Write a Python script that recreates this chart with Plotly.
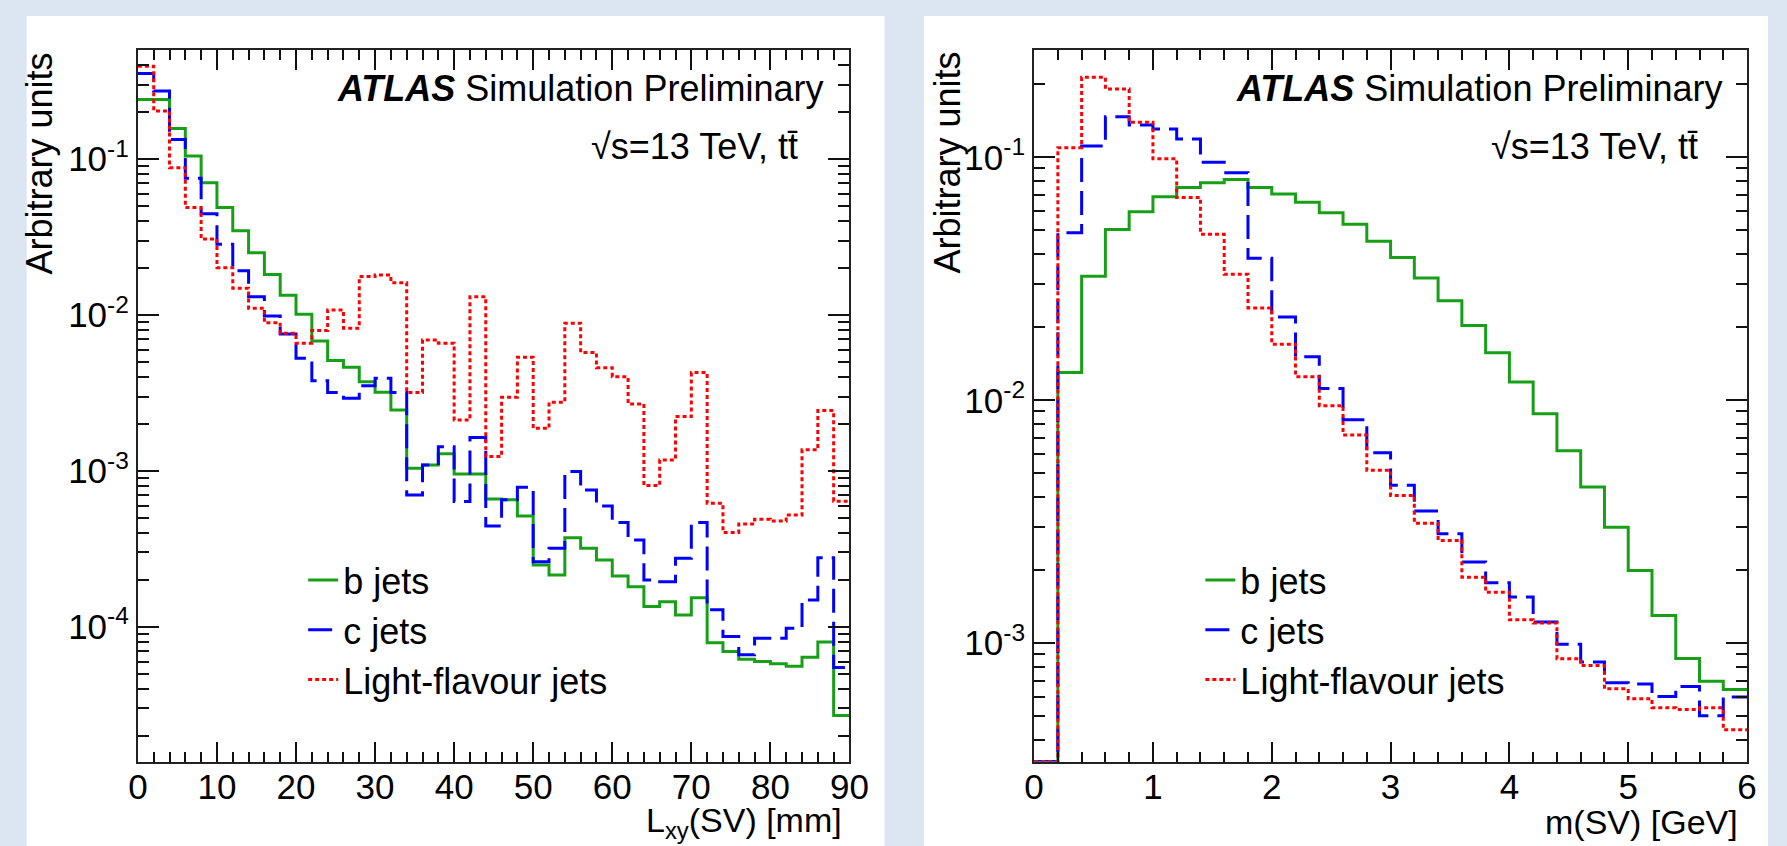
import numpy as np
import plotly.graph_objects as go

# ---------------- data ----------------
lxy_bin_width = 2.0          # mm
lxy_nbins = 45               # 0 .. 90 mm
msv_bin_width = 0.2          # GeV
msv_nbins = 30               # 0 .. 6 GeV

lxy_b = [0.241, 0.241, 0.157, 0.1045, 0.0705, 0.0488, 0.0347, 0.0251, 0.0182, 0.0134,
         0.0101, 0.0068, 0.0051, 0.00462, 0.00373, 0.00319, 0.00246, 0.00104, 0.00109, 0.00129,
         0.000957, 0.000957, 0.000662, 0.000654, 0.000515, 0.000249, 0.000215, 0.000373, 0.000319, 0.000269,
         0.000212, 0.000181, 0.000135, 0.000145, 0.000119, 0.000154, 7.9e-5, 6.95e-5, 6.2e-5, 6.0e-5,
         5.8e-5, 5.6e-5, 6.4e-5, 8.0e-5, 2.7e-5]
lxy_c = [0.354, 0.273, 0.1336, 0.0752, 0.0446, 0.0284, 0.0192, 0.0131, 0.00986, 0.00756,
         0.00527, 0.00379, 0.00318, 0.00292, 0.00352, 0.00393, 0.00318, 0.000702, 0.00109, 0.00143,
         0.000636, 0.001636, 0.000444, 0.000654, 0.000787, 0.000262, 0.000319, 0.00099, 0.000755, 0.000597,
         0.000467, 0.000361, 0.0002, 0.000195, 0.000276, 0.000467, 0.000129, 8.67e-5, 6.62e-5, 8.46e-5,
         8.46e-5, 9.8e-5, 0.000149, 0.000278, 5.5e-5]
lxy_l = [0.394, 0.203, 0.088, 0.0488, 0.0307, 0.0201, 0.01483, 0.01104, 0.00893, 0.00764,
         0.00659, 0.00794, 0.01077, 0.00822, 0.01762, 0.01804, 0.0161, 0.00318, 0.00692, 0.00659,
         0.00212, 0.0131, 0.001236, 0.002965, 0.00536, 0.001875, 0.002755, 0.00885, 0.00574, 0.00459,
         0.00402, 0.00269, 0.000806, 0.001177, 0.00223, 0.00427, 0.00062, 0.000403, 0.000457, 0.00049,
         0.000478, 0.000522, 0.001365, 0.00244, 0.00064]

msv_b = [0, 0.0130, 0.0324, 0.0505, 0.0597, 0.0689, 0.0752, 0.0786, 0.0811, 0.0752,
         0.0706, 0.0653, 0.0592, 0.0530, 0.0452, 0.0387, 0.0319, 0.0257, 0.0203, 0.0157,
         0.0119, 0.0088, 0.0062, 0.0044, 0.0030, 0.00199, 0.0013, 0.000865, 0.000697, 0.000644]
msv_c = [0, 0.0489, 0.1113, 0.147, 0.1358, 0.1308, 0.119, 0.0954, 0.0864, 0.0384,
         0.022, 0.0151, 0.01117, 0.00832, 0.00608, 0.00447, 0.0035, 0.002825, 0.00216, 0.001775,
         0.001548, 0.001222, 0.000989, 0.000836, 0.000687, 0.00068, 0.000603, 0.000663, 0.000503, 0.0006]
msv_l = [0, 0.1096, 0.2137, 0.191, 0.1396, 0.0987, 0.0684, 0.0483, 0.033, 0.024,
         0.0170, 0.0125, 0.0095, 0.0072, 0.00515, 0.00406, 0.00312, 0.00265, 0.00187, 0.00162,
         0.001248, 0.00121, 0.000862, 0.000809, 0.000649, 0.00059, 0.000542, 0.000534, 0.000542, 0.00044]

series_names = ["b jets", "c jets", "Light-flavour jets"]
ytick_vals_left = [1e-4, 1e-3, 1e-2, 1e-1]
ytick_text_left = ["10<sup>-4</sup>", "10<sup>-3</sup>", "10<sup>-2</sup>", "10<sup>-1</sup>"]
ytick_vals_right = [1e-3, 1e-2, 1e-1]
ytick_text_right = ["10<sup>-3</sup>", "10<sup>-2</sup>", "10<sup>-1</sup>"]

# ---------------- styling ----------------
W, H = 1787, 846
FONT = "Liberation Sans, Arial, Helvetica, sans-serif"
GREEN, BLUE, RED = "#17a017", "#0000ff", "#ff0000"
styles = [dict(color=GREEN, width=3, dash="solid"),
          dict(color=BLUE, width=3, dash="24px,9px"),
          dict(color=RED, width=3, dash="4px,3px")]

LEFT_YRANGE = [-4.863, -0.301]
RIGHT_YRANGE = [-3.487, -0.558]
TICK_SIZE = 35
TEXT_SIZE = 36
XTITLE_SIZE = 34


def px_x(p):
    return p / W


def px_y(p):
    return 1 - p / H


def steps(width, vals, ymin_log):
    edges = np.arange(len(vals) + 1) * width
    floor = 10 ** ymin_log
    y = [max(v, floor) for v in vals]
    return edges, y + [y[-1]]


fig = go.Figure()

for i, (name, vals) in enumerate(zip(series_names, [lxy_b, lxy_c, lxy_l])):
    xs, ys = steps(lxy_bin_width, vals, LEFT_YRANGE[0])
    fig.add_trace(go.Scatter(x=xs, y=ys, mode="lines", line=dict(shape="hv", **styles[i]),
                             name=name, xaxis="x", yaxis="y", legend="legend"))

for i, (name, vals) in enumerate(zip(series_names, [msv_b, msv_c, msv_l])):
    xs, ys = steps(msv_bin_width, vals, RIGHT_YRANGE[0])
    fig.add_trace(go.Scatter(x=xs, y=ys, mode="lines", line=dict(shape="hv", **styles[i]),
                             name=name, xaxis="x2", yaxis="y2", legend="legend2"))

ydom = [px_y(761.5), px_y(50)]
common_x = dict(ticks="inside", ticklen=20, tickwidth=1.5, tickcolor="#111",
                showline=True, linecolor="#222", linewidth=2, mirror="allticks",
                showgrid=False, zeroline=False,
                tickfont=dict(family=FONT, size=TICK_SIZE, color="black"), ticklabelstandoff=-7)
common_y = dict(type="log", ticks="inside", ticklen=21, tickwidth=1.5, tickcolor="#111",
                showline=True, linecolor="#222", linewidth=2, mirror="allticks",
                showgrid=False, zeroline=False, tickmode="array",
                minor=dict(ticks="inside", ticklen=11, tickwidth=1.5, tickcolor="#111",
                           dtick="D1", showgrid=False),
                tickfont=dict(family=FONT, size=TICK_SIZE, color="black"), ticklabelstandoff=0)

legend_common = dict(xanchor="left", yanchor="top", bgcolor="rgba(0,0,0,0)",
                     font=dict(family=FONT, size=TEXT_SIZE, color="black"), tracegroupgap=0)

fig.update_layout(
    width=W, height=H, margin=dict(l=0, r=0, t=0, b=0),
    paper_bgcolor="#dce6f2", plot_bgcolor="white",
    xaxis=dict(domain=[px_x(130), px_x(853.3)], range=[0, 90], anchor="y", dtick=10, tick0=0,
               minor=dict(ticks="inside", ticklen=10, tickwidth=1.5, tickcolor="#111", dtick=2,
                          showgrid=False), **common_x),
    yaxis=dict(domain=ydom, range=LEFT_YRANGE, anchor="x",
               tickvals=ytick_vals_left, ticktext=ytick_text_left, **common_y),
    xaxis2=dict(domain=[px_x(1041), px_x(1765.7)], range=[0, 6], anchor="y2", dtick=1, tick0=0,
                minor=dict(ticks="inside", ticklen=10, tickwidth=1.5, tickcolor="#111", dtick=0.2,
                           showgrid=False), **common_x),
    yaxis2=dict(domain=ydom, range=RIGHT_YRANGE, anchor="x2",
                tickvals=ytick_vals_right, ticktext=ytick_text_right, **common_y),
    legend=dict(x=px_x(298), y=px_y(550), **legend_common),
    legend2=dict(x=px_x(1210), y=px_y(550), **legend_common),
    showlegend=True,
)

# white pads
fig.add_shape(type="rect", xref="paper", yref="paper", x0=px_x(17), x1=px_x(889),
              y0=0, y1=px_y(16), fillcolor="white", line=dict(width=0), layer="below")
fig.add_shape(type="rect", xref="paper", yref="paper", x0=px_x(929), x1=1,
              y0=0, y1=px_y(16), fillcolor="white", line=dict(width=0), layer="below")

tfont = dict(family=FONT, size=TEXT_SIZE, color="black")
xtfont = dict(family=FONT, size=XTITLE_SIZE, color="black")
annots = [
    # y titles
    dict(text="Arbitrary units", x=px_x(31), y=px_y(50), xanchor="center", yanchor="top", textangle=-90, font=tfont),
    dict(text="Arbitrary units", x=px_x(953), y=px_y(50), xanchor="center", yanchor="top", textangle=-90, font=tfont),
    # x titles
    dict(text="L<sub>xy</sub>(SV) [mm]", x=px_x(848), y=px_y(846), xanchor="right", yanchor="bottom", font=xtfont),
    dict(text="m(SV) [GeV]", x=px_x(1759), y=px_y(843), xanchor="right", yanchor="bottom", font=xtfont),
    # ATLAS labels
    dict(text="<b><i>ATLAS</i></b> Simulation Preliminary", x=px_x(828), y=px_y(88),
         xanchor="right", yanchor="middle", font=tfont),
    dict(text="<b><i>ATLAS</i></b> Simulation Preliminary", x=px_x(1742), y=px_y(88),
         xanchor="right", yanchor="middle", font=tfont),
    dict(text="\u221as=13 TeV, tt\u0304", x=px_x(803), y=px_y(147), xanchor="right", yanchor="middle", font=tfont),
    dict(text="\u221as=13 TeV, tt\u0304", x=px_x(1718), y=px_y(147), xanchor="right", yanchor="middle", font=tfont),
]
for a in annots:
    fig.add_annotation(xref="paper", yref="paper", showarrow=False, **a)

fig.write_html("out.html")
